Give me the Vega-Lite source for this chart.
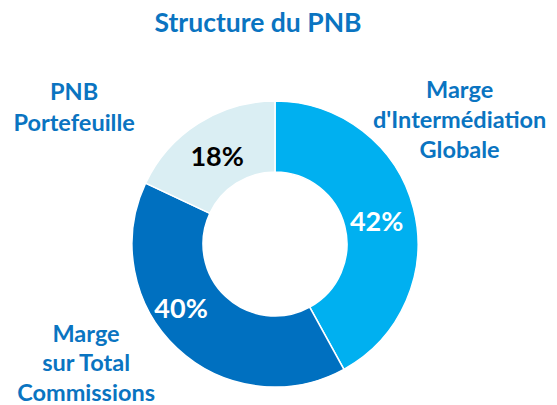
{
  "$schema": "https://vega.github.io/schema/vega-lite/v6.json",
  "width": 550,
  "height": 322,
  "autosize": {"type": "none"},
  "padding": {"left": 0, "top": 83, "right": 7, "bottom": 0},
  "background": "white",
  "config": {"view": {"stroke": null}},
  "title": {
    "text": "Structure du PNB",
    "font": "Lato",
    "fontSize": 26.5,
    "fontWeight": "bold",
    "color": "#0A74C1",
    "anchor": "middle",
    "frame": "group",
    "dx": -17,
    "dy": 23,
    "offset": 0
  },
  "data": {
    "values": [
      {"cat": "Marge d'Intermédiation Globale", "label": "Marge\nd'Intermédiation\nGlobale", "value": 0.42, "order": 1},
      {"cat": "Marge sur Total Commissions", "label": "Marge\nsur Total\nCommissions", "value": 0.40, "order": 2},
      {"cat": "PNB Portefeuille", "label": "PNB\nPortefeuille", "value": 0.18, "order": 3}
    ]
  },
  "encoding": {
    "theta": {"field": "value", "type": "quantitative", "stack": true},
    "order": {"field": "order", "type": "quantitative"}
  },
  "layer": [
    {
      "mark": {"type": "arc", "innerRadius": 72, "outerRadius": 143, "stroke": "white", "strokeWidth": 1.5},
      "encoding": {
        "color": {
          "field": "cat",
          "type": "nominal",
          "scale": {
            "domain": ["Marge d'Intermédiation Globale", "Marge sur Total Commissions", "PNB Portefeuille"],
            "range": ["#00B0F0", "#0070C0", "#DAEEF3"]
          },
          "legend": null
        }
      }
    },
    {
      "mark": {"type": "text", "radius": 108, "font": "Lato", "fontSize": 27, "fontWeight": "bold", "color": "white", "align": "center", "baseline": "middle", "dx": -3, "dy": 6},
      "encoding": {
        "text": {"condition": {"test": "datum.order === 1", "field": "value", "format": ".0%"}, "value": ""}
      }
    },
    {
      "mark": {"type": "text", "radius": 108, "font": "Lato", "fontSize": 27, "fontWeight": "bold", "color": "white", "align": "center", "baseline": "middle", "dx": -20, "dy": -13},
      "encoding": {
        "text": {"condition": {"test": "datum.order === 2", "field": "value", "format": ".0%"}, "value": ""}
      }
    },
    {
      "mark": {"type": "text", "radius": 108, "font": "Lato", "fontSize": 27, "fontWeight": "bold", "color": "black", "align": "center", "baseline": "middle", "dx": 0, "dy": 5},
      "encoding": {
        "text": {"condition": {"test": "datum.order === 3", "field": "value", "format": ".0%"}, "value": ""}
      }
    },
    {
      "mark": {"type": "text", "radius": 108, "font": "Lato", "fontSize": 23.5, "fontWeight": "bold", "color": "#0A74C1", "align": "center", "baseline": "middle", "lineBreak": "\n", "lineHeight": 30, "dx": 80, "dy": -126},
      "encoding": {
        "text": {"condition": {"test": "datum.order === 1", "field": "label"}, "value": ""}
      }
    },
    {
      "mark": {"type": "text", "radius": 108, "font": "Lato", "fontSize": 23.5, "fontWeight": "bold", "color": "#0A74C1", "align": "center", "baseline": "middle", "lineBreak": "\n", "lineHeight": 29.5, "dx": -115, "dy": 12},
      "encoding": {
        "text": {"condition": {"test": "datum.order === 2", "field": "label"}, "value": ""}
      }
    },
    {
      "mark": {"type": "text", "radius": 108, "font": "Lato", "fontSize": 23.5, "fontWeight": "bold", "color": "#0A74C1", "align": "center", "baseline": "middle", "lineBreak": "\n", "lineHeight": 31, "dx": -143, "dy": -60},
      "encoding": {
        "text": {"condition": {"test": "datum.order === 3", "field": "label"}, "value": ""}
      }
    }
  ]
}
